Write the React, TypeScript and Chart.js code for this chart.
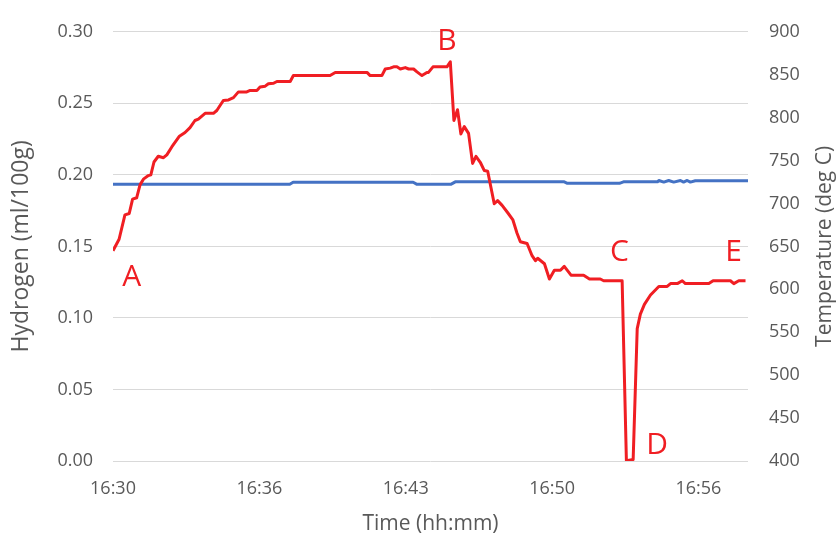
import { useEffect, useRef } from "react";
import { Chart, registerables } from "chart.js";

Chart.register(...registerables);

// Hydrogen series (minutes after 16:30, ml/100g)
const hydrogenMinutes = [
  0.0, 0.27, 0.53, 0.72, 0.87, 1.05, 1.2, 1.35, 1.57, 1.68, 1.82, 2.01, 2.24, 2.39, 2.61, 2.95, 3.2, 3.42, 3.64, 3.79,
  4.09, 4.46, 4.61, 4.9, 5.13, 5.35, 5.57, 5.94, 6.09, 6.39, 6.53, 6.76, 6.9, 7.13, 7.28, 7.87, 8.01, 9.64, 9.87, 11.28,
  11.42, 11.94, 12.09, 12.31, 12.46, 12.61, 12.76, 12.98, 13.13, 13.35, 13.5, 13.72, 13.94, 14.01, 14.21, 14.83, 14.98,
  15.14, 15.3, 15.45, 15.6, 15.79, 15.97, 16.12, 16.31, 16.49, 16.64, 16.93, 17.08, 17.28, 17.53, 17.76, 17.94, 18.09,
  18.39, 18.61, 18.76, 18.86, 19.16, 19.38, 19.6, 19.87, 20.04, 20.34, 20.9, 21.16, 21.64, 21.79, 22.61, 22.8, 23.1,
  23.28, 23.42, 23.6, 23.87, 24.24, 24.61, 24.76, 25.06, 25.28, 25.42, 26.46, 26.65, 27.42, 27.57, 27.79, 28.09,
];
const hydrogen = [
  0.147, 0.155, 0.172, 0.173, 0.183, 0.184, 0.193, 0.197, 0.1995, 0.2, 0.209, 0.213, 0.212, 0.214, 0.2195, 0.227, 0.2296,
  0.233, 0.238, 0.239, 0.243, 0.243, 0.245, 0.252, 0.2524, 0.254, 0.258, 0.258, 0.259, 0.259, 0.2614, 0.262, 0.2637,
  0.264, 0.2653, 0.2653, 0.2694, 0.2694, 0.2716, 0.2716, 0.2694, 0.2694, 0.274, 0.2746, 0.2755, 0.2755, 0.274, 0.275,
  0.274, 0.274, 0.272, 0.2694, 0.2716, 0.2716, 0.2755, 0.2755, 0.279, 0.238, 0.2455, 0.2286, 0.2337, 0.229, 0.208,
  0.213, 0.2088, 0.203, 0.2025, 0.1798, 0.182, 0.1787, 0.1735, 0.1685, 0.1594, 0.1533, 0.152, 0.1435, 0.14, 0.1417,
  0.1379, 0.1272, 0.1333, 0.1333, 0.136, 0.1299, 0.1299, 0.1272, 0.1272, 0.126, 0.126, 0.0002, 0.001, 0.0925, 0.1027,
  0.1095, 0.116, 0.122, 0.122, 0.124, 0.124, 0.126, 0.124, 0.124, 0.126, 0.126, 0.124, 0.126, 0.126,
];

// Temperature series (minutes after 16:30, deg C)
const temperatureMinutes = [
  0, 7.85, 8.0, 13.33, 13.5, 15.0, 15.2, 20.04, 20.18, 22.49, 22.67, 24.18, 24.24, 24.46, 24.68, 24.9, 25.2, 25.34,
  25.5, 25.64, 25.86, 28.2,
];
const temperature = [
  722.3, 722.3, 724.7, 724.7, 722.3, 722.3, 725.2, 725.2, 723.5, 723.5, 725.2, 725.2, 726.8, 724.9, 726.8, 724.9, 726.8,
  724.9, 726.8, 724.9, 726.5, 726.5,
];

// X-axis tick positions (minutes) and labels
const timeTickMinutes = [0, 6.5, 13, 19.5, 26];
const timeTickLabels = ["16:30", "16:36", "16:43", "16:50", "16:56"];

// Point annotations
const annotationLabels = ["A", "B", "C", "D", "E"];
const annotationMinutes = [0.83, 14.83, 22.49, 24.16, 27.56];
const annotationValues = [0.128, 0.293, 0.1455, 0.0109, 0.1455];

const rightAxisTitle = "Temperature (deg C)";

const FONT = "'Open Sans', 'DejaVu Sans', sans-serif";
const TEXT = "#595959";

const annotationPlugin = {
  id: "pointLetters",
  afterDatasetsDraw(chart: any) {
    const { ctx } = chart;
    const xs = chart.scales.x;
    const ys = chart.scales.y;
    ctx.save();
    ctx.fillStyle = "#f01e23";
    ctx.font = `30px ${FONT}`;
    ctx.textAlign = "center";
    ctx.textBaseline = "middle";
    annotationLabels.forEach((t, i) => {
      ctx.fillText(t, xs.getPixelForValue(annotationMinutes[i]), ys.getPixelForValue(annotationValues[i]));
    });
    ctx.restore();
  },
};

const rightTitlePlugin = {
  id: "rightTitle",
  afterDraw(chart: any) {
    const { ctx, chartArea } = chart;
    const s = chart.scales.y1;
    ctx.save();
    ctx.translate(s.right - 11, (chartArea.top + chartArea.bottom) / 2);
    ctx.rotate(-Math.PI / 2);
    ctx.fillStyle = TEXT;
    ctx.font = `21px ${FONT}`;
    ctx.textAlign = "center";
    ctx.textBaseline = "middle";
    ctx.fillText(rightAxisTitle, 0, 0);
    ctx.restore();
  },
};

export default function App() {
  const ref = useRef<HTMLCanvasElement | null>(null);
  useEffect(() => {
    if (!ref.current) return;
    const chart = new Chart(ref.current, {
      type: "line",
      data: {
        datasets: [
          {
            label: "Hydrogen",
            data: hydrogenMinutes.map((m, i) => ({ x: m, y: hydrogen[i] })),
            borderColor: "#f01e23",
            borderWidth: 3,
            pointRadius: 0,
            tension: 0,
            yAxisID: "y",
            borderJoinStyle: "round",
          },
          {
            label: "Temperature",
            data: temperatureMinutes.map((m, i) => ({ x: m, y: temperature[i] })),
            borderColor: "#4472c4",
            borderWidth: 3,
            pointRadius: 0,
            tension: 0,
            yAxisID: "y1",
            borderJoinStyle: "round",
          },
        ],
      },
      options: {
        responsive: false,
        animation: false,
        layout: { padding: { top: 20, left: 0, right: 0, bottom: 0 } },
        plugins: { legend: { display: false }, tooltip: { enabled: false } },
        scales: {
          x: {
            type: "linear",
            min: 0,
            max: 28.2,
            grid: { display: false, drawTicks: false },
            border: { display: false },
            afterBuildTicks: (scale: any) => {
              scale.ticks = timeTickMinutes.map((v) => ({ value: v }));
            },
            afterFit: (scale: any) => {
              scale.height = 75;
            },
            ticks: {
              autoSkip: false,
              maxRotation: 0,
              padding: 17,
              color: TEXT,
              font: { family: FONT, size: 18 },
              callback: (_v: any, i: number) => timeTickLabels[i],
            },
            title: {
              display: true,
              text: "Time (hh:mm)",
              color: TEXT,
              font: { family: FONT, size: 21, lineHeight: 1 },
              padding: { top: 0, bottom: 1 },
            },
          },
          y: {
            position: "left",
            min: 0,
            max: 0.3,
            grid: { color: "#d9d9d9", lineWidth: 1, drawTicks: false },
            border: { display: false },
            afterFit: (scale: any) => {
              scale.width = 113;
            },
            ticks: {
              stepSize: 0.05,
              padding: 20,
              color: TEXT,
              font: { family: FONT, size: 18 },
              callback: (v: any) => Number(v).toFixed(2),
            },
            title: {
              display: true,
              text: "Hydrogen (ml/100g)",
              color: TEXT,
              font: { family: FONT, size: 23, lineHeight: 1 },
              padding: { top: 10, bottom: 0 },
            },
          },
          y1: {
            position: "right",
            min: 400,
            max: 900,
            grid: { display: false, drawTicks: false },
            border: { display: false },
            afterFit: (scale: any) => {
              scale.width = 88;
            },
            ticks: {
              stepSize: 50,
              padding: 21,
              color: TEXT,
              font: { family: FONT, size: 18 },
            },
            title: { display: false },
          },
        },
      } as any,
      plugins: [annotationPlugin, rightTitlePlugin],
    });
    return () => chart.destroy();
  }, []);
  return (
    <div style={{ position: "absolute", left: 0, top: 0, width: 836, height: 536, background: "#fff" }}>
      <canvas ref={ref} width={836} height={536} style={{ display: "block" }} />
    </div>
  );
}
